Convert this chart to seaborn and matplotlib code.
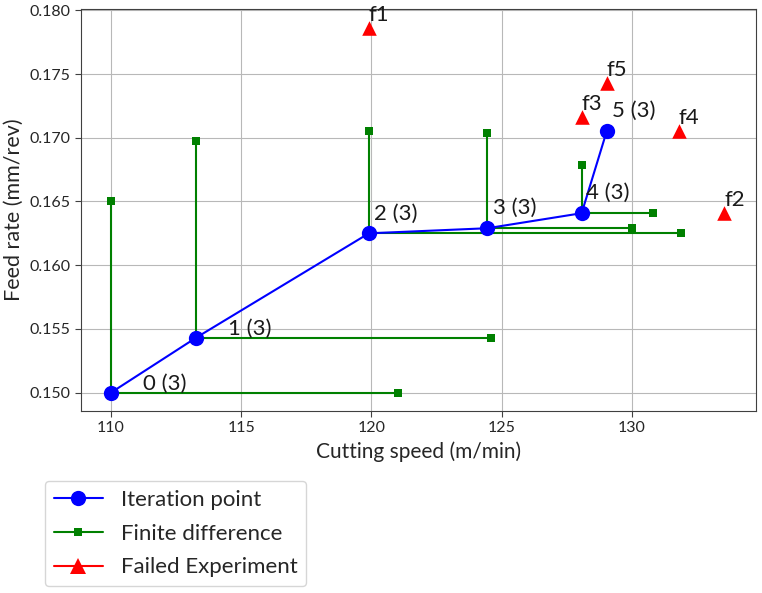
import seaborn as sns
import matplotlib.pyplot as plt
import pandas as pd
from matplotlib.lines import Line2D

# iteration points (cutting speed, feed rate)
iter_speed = [110.0, 113.26, 119.9, 124.45, 128.07, 129.04]
iter_feed = [0.1500, 0.1543, 0.1625, 0.1629, 0.16408, 0.17056]
iter_labels = ['0 (3)', '1 (3)', '2 (3)', '3 (3)', '4 (3)', '5 (3)']

# finite difference probes from iterations 0..4
fd_up_feed = [0.1650, 0.16978, 0.17056, 0.1704, 0.16787]
fd_right_speed = [121.02, 124.59, 131.9, 129.99, 130.82]

# failed experiments
fail_speed = [119.9, 133.55, 128.07, 131.79, 129.04]
fail_feed = [0.17863, 0.16408, 0.17162, 0.17056, 0.17433]
fail_labels = ['f1', 'f2', 'f3', 'f4', 'f5']

sns.set_style("whitegrid", {
    'axes.edgecolor': '0.25',
    'grid.color': '0.72',
    'xtick.bottom': True,
    'ytick.left': True,
})
plt.rcParams['font.family'] = ['Lato', 'DejaVu Sans']

fig = plt.figure(figsize=(7.62, 5.93), dpi=100)
ax = fig.add_axes([0.1063, 0.3069, 0.8857, 0.6779])

# finite difference segments in long form
rows = []
seg = 0
for i in range(len(fd_up_feed)):
    rows.append((seg, iter_speed[i], iter_feed[i]))
    rows.append((seg, iter_speed[i], fd_up_feed[i]))
    seg += 1
    rows.append((seg, iter_speed[i], iter_feed[i]))
    rows.append((seg, fd_right_speed[i], iter_feed[i]))
    seg += 1
fd = pd.DataFrame(rows, columns=['seg', 'speed', 'feed'])
sns.lineplot(data=fd, x='speed', y='feed', units='seg', estimator=None, sort=False,
             color='green', marker='s', markersize=6, markeredgewidth=0,
             linewidth=1.5, ax=ax)

it = pd.DataFrame({'speed': iter_speed, 'feed': iter_feed})
sns.lineplot(data=it, x='speed', y='feed', sort=False, color='blue', marker='o',
             markersize=11, markeredgewidth=0, linewidth=1.5, ax=ax, zorder=3)

fl = pd.DataFrame({'speed': fail_speed, 'feed': fail_feed})
sns.scatterplot(data=fl, x='speed', y='feed', color='red', marker='^', s=110,
                linewidth=0, ax=ax, zorder=4)

label_offsets = [(23, 2), (23, 2), (4, 10), (4, 10), (3, 10), (4, 10)]
for sx, fy, t, off in zip(iter_speed, iter_feed, iter_labels, label_offsets):
    ax.annotate(t, (sx, fy), xytext=off, textcoords='offset points',
                fontsize=16, color='0.1')
for sx, fy, t in zip(fail_speed, fail_feed, fail_labels):
    ax.annotate(t, (sx, fy), xytext=(0, 5), textcoords='offset points',
                fontsize=16, color='0.1')

ax.set_xlim(108.85, 134.76)
ax.set_ylim(0.14856, 0.1801)
ax.set_xticks([110, 115, 120, 125, 130])
ax.set_yticks([0.150, 0.155, 0.160, 0.165, 0.170, 0.175, 0.180])
ax.yaxis.set_major_formatter(plt.FormatStrFormatter('%.3f'))
ax.tick_params(labelsize=11.5, length=4, color='0.25')
ax.set_xlabel('Cutting speed (m/min)', fontsize=15)
ax.set_ylabel('Feed rate (mm/rev)', fontsize=15.5)

handles = [
    Line2D([], [], color='blue', marker='o', markersize=11, markeredgewidth=0, lw=1.5),
    Line2D([], [], color='green', marker='s', markersize=6, markeredgewidth=0, lw=1.5),
    Line2D([], [], color='red', marker='^', markersize=11, markeredgewidth=0, lw=1.5),
]
fig.legend(handles, ['Iteration point', 'Finite difference', 'Failed Experiment'],
           loc='upper left', bbox_to_anchor=(0.059, 0.189), fontsize=16,
           frameon=True, handlelength=2.2, borderaxespad=0, labelspacing=0.62)

fig.savefig('out.png', dpi=100)
